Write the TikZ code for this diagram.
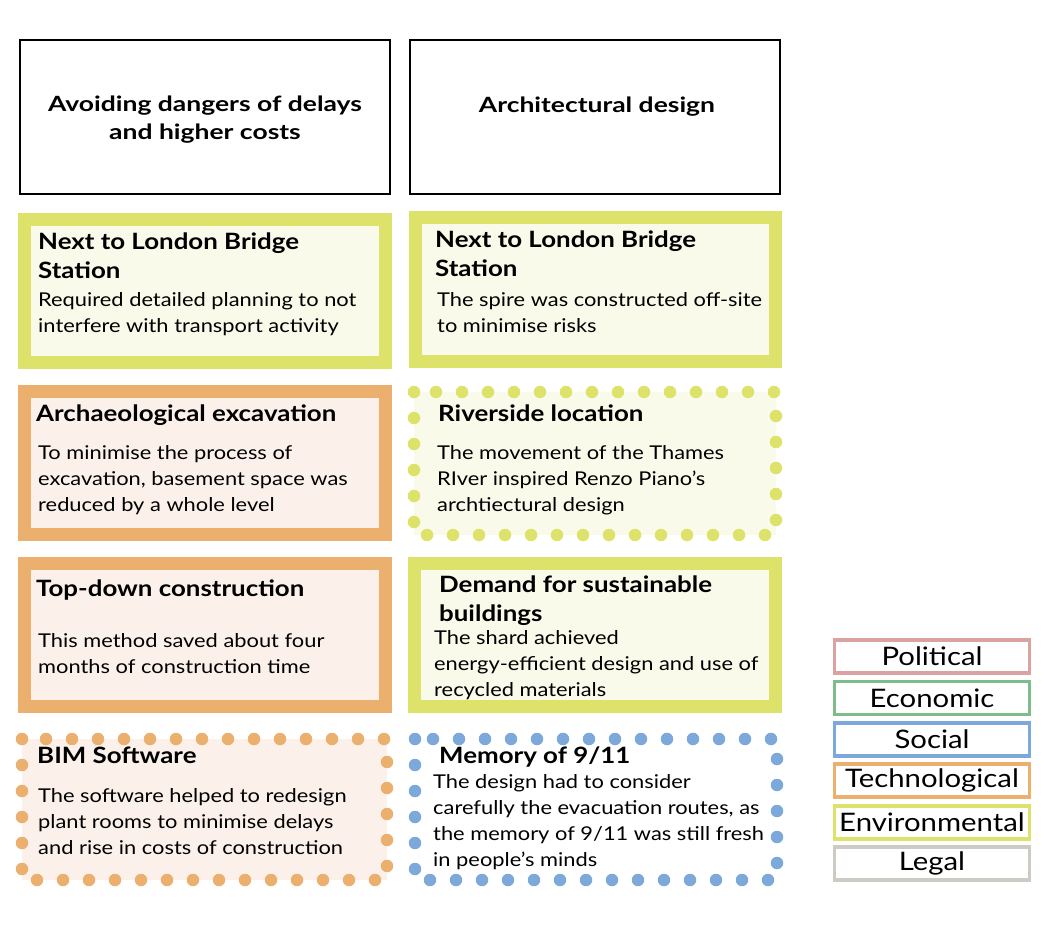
\documentclass[tikz,border=0pt]{standalone}
\usepackage{fontspec}
\setmainfont[FakeStretch=1.15]{Lato}
\newfontfamily\headfont[FakeStretch=1.26]{Lato}
\definecolor{envCol}{RGB}{221,227,106}
\definecolor{envFill}{RGB}{250,250,234}
\definecolor{tecCol}{RGB}{236,176,110}
\definecolor{tecFill}{RGB}{251,241,234}
\definecolor{socCol}{RGB}{125,168,218}
\definecolor{polCol}{RGB}{218,162,160}
\definecolor{ecoCol}{RGB}{126,188,140}
\definecolor{legCol}{RGB}{206,202,196}

\tikzset{P07head/.style={draw,line width=2pt,minimum width=370pt,minimum height=154pt,inner sep=0pt},
         P07hd/.style={align=center,inner sep=0pt,font=\headfont\bfseries\fontsize{21}{28}\selectfont},
         P07solid/.style={draw=#1,line width=13pt},
         P07dots/.style={draw=#1,line width=12.5pt,line cap=round,dash pattern=on 0pt off 26pt},
         P07ttl/.style={anchor=north west,align=left,inner sep=0pt,font=\bfseries\fontsize{22.5}{29}\selectfont,execute at begin node=\strut},
         P07txt/.style={anchor=north west,align=left,inner sep=0pt,font=\fontsize{19}{26}\selectfont,execute at begin node=\strut},
         P07key/.style={draw=#1,line width=3.5pt,minimum width=195pt,minimum height=33pt,inner sep=0pt,font=\fontsize{25.5}{28}\selectfont}}

\begin{document}
\begin{tikzpicture}[x=1pt,y=-1pt]
    \useasboundingbox (0,0) rectangle (1063,925);
    % column heads
    \node[P07head] (hL) at (205,117) {};
    \node[P07head] (hR) at (595,117) {};
    \node[P07hd] (hLt) at (205,120) {Avoiding dangers of delays\\and higher costs};
    \node[P07hd] (hRt) at (597,107) {Architectural design};
    % cards
    \draw[P07solid=envCol,fill=envFill] (24.5,219.5) rectangle (385.5,362.5);
    \draw[P07solid=envCol,fill=envFill] (415.5,217.5) rectangle (775.5,361);
    \draw[P07solid=tecCol,fill=tecFill] (24.5,391.5) rectangle (385.5,534.5);
    \draw[P07dots=envCol,fill=envFill] (414,392) rectangle (776,535);
    \draw[P07solid=tecCol,fill=tecFill] (24.5,563.5) rectangle (385.5,706.5);
    \draw[P07solid=envCol,fill=envFill] (414.5,563.5) rectangle (775.5,706.5);
    \draw[P07dots=tecCol,fill=tecFill] (22,739) rectangle (387,880);
    \draw[P07dots=socCol] (415,739) rectangle (777,880);
    % card texts
    \node[P07ttl] (t1) at (38,232.7) {Next to London Bridge\\Station};
    \node[P07txt] (b1) at (38,292.5) {Required detailed planning to not\\interfere with transport activity};
    \node[P07ttl] (t2) at (435,230.7) {Next to London Bridge\\Station};
    \node[P07txt] (b2) at (437,292.5) {The spire was constructed off-site\\to minimise risks};
    \node[P07ttl] (t3) at (36,400.7) {Archaeological excavation};
    \node[P07txt] (b3) at (38,445) {To minimise the process of\\excavation, basement space was\\reduced by a whole level};
    \node[P07ttl] (t4) at (438,400.7) {Riverside location};
    \node[P07txt] (b4) at (437,445) {The movement of the Thames\\RIver inspired Renzo Piano’s\\archtiectural design};
    \node[P07ttl] (t5) at (36,575.7) {Top-down construction};
    \node[P07txt] (b5) at (38,633) {This method saved about four\\months of construction time};
    \node[P07ttl] (t6) at (439,575.7) {Demand for sustainable\\buildings};
    \node[P07txt] (b6) at (434,630.5) {The shard achieved\\energy-efficient design and use of\\recycled materials};
    \node[P07ttl] (t7) at (37,742.7) {BIM Software};
    \node[P07txt] (b7) at (38,788) {The software helped to redesign\\plant rooms to minimise delays\\and rise in costs of construction};
    \node[P07ttl] (t8) at (439,742.7) {Memory of 9/11};
    \node[P07txt] (b8) at (433,774) {The design had to consider\\carefully the evacuation routes, as\\the memory of 9/11 was still fresh\\in people’s minds};
    % key
    \foreach \y/\n/\c/\l in {656.5/kP/polCol/Political,698/kE/ecoCol/Economic,739.5/kS/socCol/Social,
                             780.5/kT/tecCol/Technological,822.5/kV/envCol/Environmental,863.5/kL/legCol/Legal}
      {\node[P07key=\c] (\n) at (932,\y) {\l};}
\end{tikzpicture}
\end{document}
